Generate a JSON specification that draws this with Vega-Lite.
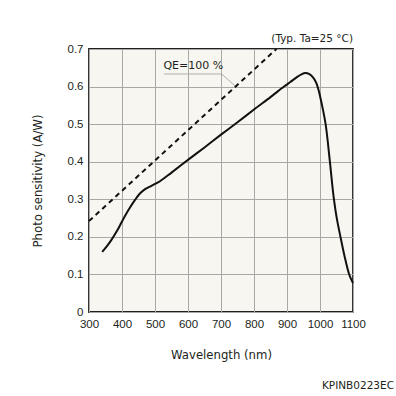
{
  "$schema": "https://vega.github.io/schema/vega-lite/v6.json",
  "autosize": {"type": "none"},
  "padding": {"left": 89, "top": 49, "right": 43, "bottom": 84},
  "width": 264,
  "height": 263,
  "background": "white",
  "title": {
    "text": "KPINB0223EC",
    "orient": "bottom",
    "anchor": "end",
    "frame": "group",
    "dx": 41,
    "offset": 20,
    "font": "DejaVu Sans",
    "fontSize": 10.5,
    "fontWeight": "normal",
    "color": "#231f20"
  },
  "config": {
    "view": {"stroke": "#231f20", "strokeWidth": 1.8, "fill": "#f7f6f0"},
    "axis": {
      "grid": true,
      "gridColor": "#a8a8a4",
      "gridWidth": 1,
      "gridOpacity": 1,
      "domain": false,
      "ticks": false,
      "labelOverlap": false,
      "labelFlush": false,
      "tickCount": 20,
      "labelFont": "Liberation Sans",
      "labelFontSize": 11.5,
      "labelColor": "#231f20",
      "titleFont": "DejaVu Sans",
      "titleFontSize": 11.7,
      "titleFontWeight": "normal",
      "titleColor": "#231f20"
    }
  },
  "datasets": {
    "sens": [
      {"wl": 340, "r": 0.160}, {"wl": 355, "r": 0.176}, {"wl": 368, "r": 0.192},
      {"wl": 385, "r": 0.216}, {"wl": 400, "r": 0.241}, {"wl": 420, "r": 0.272},
      {"wl": 440, "r": 0.299}, {"wl": 455, "r": 0.316}, {"wl": 470, "r": 0.327},
      {"wl": 485, "r": 0.334}, {"wl": 500, "r": 0.341}, {"wl": 515, "r": 0.348},
      {"wl": 550, "r": 0.371}, {"wl": 600, "r": 0.405}, {"wl": 650, "r": 0.438},
      {"wl": 700, "r": 0.472}, {"wl": 750, "r": 0.505}, {"wl": 800, "r": 0.539},
      {"wl": 850, "r": 0.572}, {"wl": 891, "r": 0.600}, {"wl": 910, "r": 0.612},
      {"wl": 930, "r": 0.625}, {"wl": 945, "r": 0.633}, {"wl": 955, "r": 0.636},
      {"wl": 968, "r": 0.633}, {"wl": 980, "r": 0.623}, {"wl": 988, "r": 0.611},
      {"wl": 995, "r": 0.593}, {"wl": 1005, "r": 0.555}, {"wl": 1017, "r": 0.500},
      {"wl": 1030, "r": 0.400}, {"wl": 1040, "r": 0.316}, {"wl": 1050, "r": 0.254},
      {"wl": 1062, "r": 0.200}, {"wl": 1075, "r": 0.146}, {"wl": 1088, "r": 0.101},
      {"wl": 1095, "r": 0.086}, {"wl": 1100, "r": 0.077}
    ],
    "qe": [
      {"wl": 300, "r": 0.242}, {"wl": 868, "r": 0.700}
    ],
    "leader": [
      {"wl": 527, "r": 0.6335}, {"wl": 702, "r": 0.6335}, {"wl": 745, "r": 0.600}
    ],
    "labels": [
      {"wl": 616, "r": 0.654, "txt": "QE=100 %"}
    ],
    "note": [
      {"wl": 1100, "r": 0.726, "txt": "(Typ. Ta=25 °C)"}
    ]
  },
  "layer": [
    {
      "data": {"name": "leader"},
      "mark": {"type": "line", "color": "#b0b0ac", "strokeWidth": 1},
      "encoding": {
        "x": {"field": "wl", "type": "quantitative", "scale": {"domain": [300, 1100], "nice": false, "zero": false},
              "axis": {"values": [300, 400, 500, 600, 700, 800, 900, 1000, 1100], "format": "d", "labelPadding": 6, "title": "Wavelength (nm)", "titlePadding": 20}},
        "y": {"field": "r", "type": "quantitative", "scale": {"domain": [0, 0.7], "nice": false},
              "axis": {"values": [0, 0.1, 0.2, 0.3, 0.4, 0.5, 0.6, 0.7], "labelExpr": "datum.value == 0 ? '0' : format(datum.value, '.1f')", "labelPadding": 6, "title": "Photo sensitivity (A/W)", "titlePadding": 24}}
      }
    },
    {
      "data": {"name": "qe"},
      "mark": {"type": "line", "color": "#111111", "strokeWidth": 2, "strokeDash": [5, 4]},
      "encoding": {
        "x": {"field": "wl", "type": "quantitative"},
        "y": {"field": "r", "type": "quantitative"}
      }
    },
    {
      "data": {"name": "sens"},
      "mark": {"type": "line", "color": "#111111", "strokeWidth": 2, "interpolate": "catmull-rom"},
      "encoding": {
        "x": {"field": "wl", "type": "quantitative"},
        "y": {"field": "r", "type": "quantitative"}
      }
    },
    {
      "data": {"name": "labels"},
      "mark": {"type": "text", "font": "DejaVu Sans", "fontSize": 11, "color": "#231f20", "align": "center", "baseline": "middle"},
      "encoding": {
        "x": {"field": "wl", "type": "quantitative"},
        "y": {"field": "r", "type": "quantitative"},
        "text": {"field": "txt"}
      }
    },
    {
      "data": {"name": "note"},
      "mark": {"type": "text", "font": "DejaVu Sans", "fontSize": 10.5, "color": "#231f20", "align": "right", "baseline": "middle"},
      "encoding": {
        "x": {"field": "wl", "type": "quantitative"},
        "y": {"field": "r", "type": "quantitative"},
        "text": {"field": "txt"}
      }
    }
  ]
}
